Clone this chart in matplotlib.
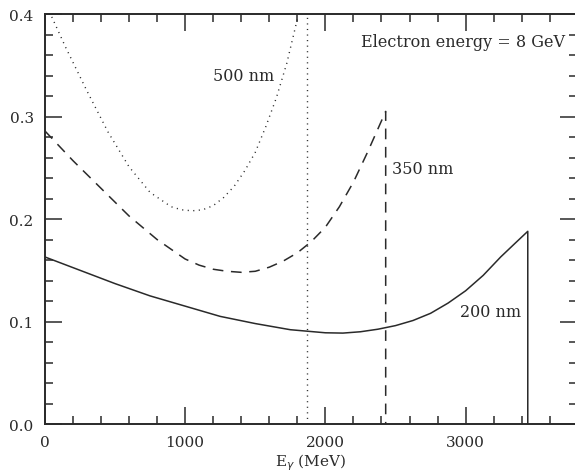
import numpy as np
import matplotlib
matplotlib.use('Agg')
import matplotlib.pyplot as plt
from matplotlib.ticker import MultipleLocator, FormatStrFormatter

plt.rcParams['font.family'] = 'DejaVu Serif'

# 200 nm laser (solid)
x_200 = [0, 250, 500, 750, 1000, 1250, 1500, 1750, 1875, 2000, 2125, 2250, 2375, 2500, 2625,
         2750, 2875, 3000, 3125, 3250, 3350, 3443]
y_200 = [0.163, 0.150, 0.137, 0.125, 0.115, 0.105, 0.098, 0.092, 0.0905, 0.089, 0.0887, 0.090, 0.0925,
         0.096, 0.101, 0.108, 0.118, 0.130, 0.145, 0.163, 0.176, 0.188]

# 350 nm laser (dashed)
x_350 = [0, 200, 400, 600, 800, 1000, 1100, 1200, 1300, 1400, 1500, 1600, 1700, 1800, 1900,
         2000, 2100, 2200, 2300, 2430]
y_350 = [0.286, 0.257, 0.230, 0.203, 0.180, 0.161, 0.155, 0.151, 0.149, 0.148, 0.149, 0.153, 0.159,
         0.167, 0.178, 0.192, 0.212, 0.236, 0.265, 0.305]

# 500 nm laser (dotted)
x_500 = [0, 50, 150, 300, 450, 600, 750, 900, 975, 1050, 1125, 1200, 1275, 1350, 1425, 1500,
         1575, 1650, 1725, 1800]
y_500 = [0.412, 0.397, 0.367, 0.325, 0.285, 0.251, 0.226, 0.212, 0.209, 0.208, 0.209, 0.213, 0.221,
         0.232, 0.247, 0.265, 0.290, 0.318, 0.352, 0.395]

# kinematic edges (MeV)
edge_200 = 3443
edge_350 = 2430
edge_500 = 1867

ink = '#2a2a2a'

fig = plt.figure(figsize=(5.75, 4.77), dpi=100)
ax = fig.add_axes([0.078, 0.109, 0.925, 0.8595])

ax.plot(x_200 + [edge_200], y_200 + [0.0], color=ink, lw=1.1)
l350, = ax.plot(x_350 + [edge_350], y_350 + [0.0], color=ink, lw=1.1)
l350.set_dashes((7, 5))
l500, = ax.plot(x_500, y_500, color=ink, lw=1.0)
l500.set_dashes((0.8, 3.2))
v500, = ax.plot([edge_500, edge_500], [0.0, 0.4], color=ink, lw=1.0)
v500.set_dashes((0.8, 3.2))

ax.set_xlim(0, 3792)
ax.set_ylim(0, 0.4)

ax.xaxis.set_major_locator(MultipleLocator(1000))
ax.xaxis.set_minor_locator(MultipleLocator(200))
ax.yaxis.set_major_locator(MultipleLocator(0.1))
ax.yaxis.set_minor_locator(MultipleLocator(0.02))
ax.yaxis.set_major_formatter(FormatStrFormatter('%.1f'))
ax.tick_params(which='both', direction='in', top=True, right=True, color=ink, width=1.1)
ax.tick_params(which='major', length=12, labelsize=11, pad=8, labelcolor=ink)
ax.tick_params(which='minor', length=5.5)
for s in ax.spines.values():
    s.set_linewidth(1.4)
    s.set_color(ink)

ax.set_xlabel(r'E$_\gamma$ (MeV)', fontsize=11, color=ink, labelpad=2)

ax.text(1420, 0.340, '500 nm', fontsize=11.5, color=ink, ha='center', va='center')
ax.text(2473, 0.249, '350 nm', fontsize=11.5, color=ink, ha='left', va='center')
ax.text(2960, 0.110, '200 nm', fontsize=11.5, color=ink, ha='left', va='center')
ax.text(3706, 0.373, 'Electron energy = 8 GeV', fontsize=11.5, color=ink, ha='right', va='center')

fig.savefig('out.png', dpi=100)
